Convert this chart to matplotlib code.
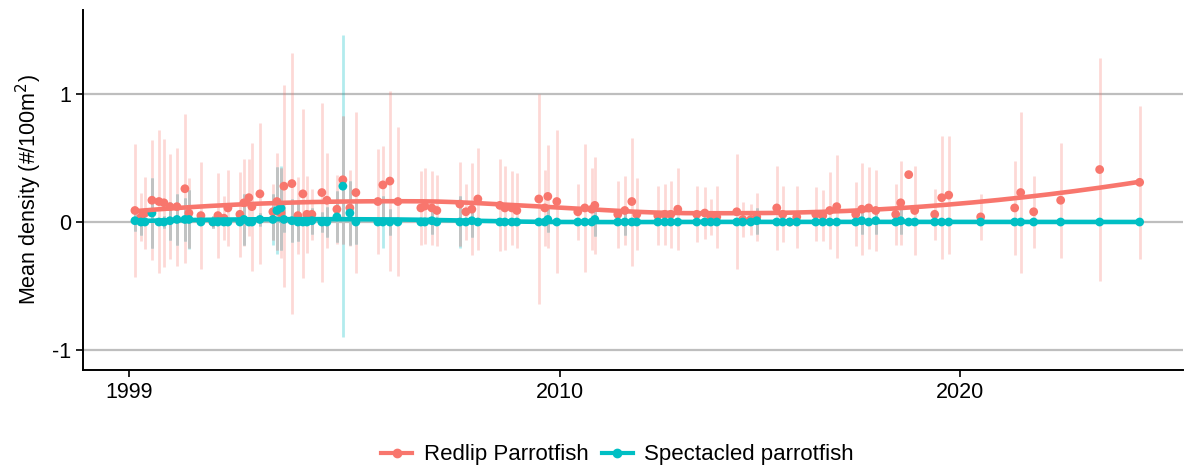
import numpy as np
import matplotlib
matplotlib.use("Agg")
import matplotlib.pyplot as plt
from matplotlib.lines import Line2D

plt.rcParams['font.family'] = ['Liberation Sans', 'DejaVu Sans']

# survey dates (decimal year)
years = [1999.375, 1999.525, 1999.625, 1999.8, 1999.975, 2000.1, 2000.25, 2000.425, 2000.625, 2000.725,
         2001.025, 2001.325, 2001.45, 2001.6, 2001.7, 2002.0, 2002.1, 2002.225, 2002.3, 2002.5,
         2002.825, 2002.925, 2003.025, 2003.1, 2003.3, 2003.45, 2003.575, 2003.675, 2003.8, 2004.05,
         2004.175, 2004.425, 2004.575, 2004.75, 2004.9, 2005.45, 2005.575, 2005.75, 2005.95, 2006.525,
         2006.625, 2006.8, 2006.925, 2007.5, 2007.65, 2007.8, 2007.95, 2008.5, 2008.625, 2008.8,
         2008.925, 2009.475, 2009.625, 2009.7, 2009.925, 2010.45, 2010.625, 2010.8, 2010.875, 2011.45,
         2011.625, 2011.8, 2011.925, 2012.45, 2012.625, 2012.775, 2012.95, 2013.425, 2013.625, 2013.775,
         2013.925, 2014.425, 2014.575, 2014.775, 2014.925, 2015.425, 2015.575, 2015.75, 2015.925, 2016.4,
         2016.575, 2016.75, 2016.925, 2017.4, 2017.55, 2017.725, 2017.9, 2018.4, 2018.525, 2018.725,
         2018.875, 2019.375, 2019.55, 2019.725, 2020.525, 2021.375, 2021.525, 2021.85, 2022.525, 2023.5,
         2024.5]

redlip = [0.09, 0.04, 0.07, 0.17, 0.16, 0.15, 0.12, 0.12, 0.26, 0.07,
          0.05, 0.0, 0.05, 0.03, 0.11, 0.06, 0.15, 0.19, 0.12, 0.22,
          0.08, 0.16, 0.07, 0.28, 0.3, 0.05, 0.22, 0.06, 0.06, 0.23,
          0.17, 0.1, 0.33, 0.11, 0.23, 0.16, 0.29, 0.32, 0.16, 0.11,
          0.125, 0.11, 0.09, 0.14, 0.08, 0.1, 0.18, 0.13, 0.11, 0.11,
          0.09, 0.18, 0.11, 0.2, 0.16, 0.08, 0.11, 0.1, 0.13, 0.06,
          0.09, 0.16, 0.06, 0.05, 0.06, 0.06, 0.1, 0.06, 0.07, 0.04,
          0.04, 0.08, 0.02, 0.02, 0.04, 0.11, 0.06, 0.0, 0.04, 0.06,
          0.05, 0.09, 0.12, 0.06, 0.1, 0.11, 0.09, 0.06, 0.15, 0.37,
          0.09, 0.06, 0.19, 0.21, 0.04, 0.11, 0.23, 0.08, 0.17, 0.41,
          0.31]

redlip_err = [0.52, 0.19, 0.28, 0.47, 0.56, 0.5, 0.41, 0.46, 0.58, 0.27,
              0.42, 0.05, 0.33, 0.17, 0.3, 0.33, 0.34, 0.3, 0.5, 0.55,
              0.22, 0.38, 0.35, 0.79, 1.02, 0.3, 0.66, 0.3, 0.2, 0.7,
              0.37, 0.27, 0.5, 0.3, 0.63, 0.41, 0.3, 0.7, 0.58, 0.29,
              0.3, 0.29, 0.28, 0.33, 0.22, 0.36, 0.4, 0.36, 0.33, 0.29,
              0.29, 0.82, 0.3, 0.4, 0.56, 0.22, 0.5, 0.32, 0.38, 0.26,
              0.27, 0.5, 0.28, 0.23, 0.24, 0.26, 0.32, 0.22, 0.2, 0.14,
              0.24, 0.45, 0.14, 0.12, 0.19, 0.33, 0.22, 0.03, 0.24, 0.21,
              0.2, 0.3, 0.4, 0.25, 0.36, 0.32, 0.32, 0.24, 0.33, 0.0,
              0.35, 0.2, 0.48, 0.46, 0.18, 0.37, 0.63, 0.28, 0.45, 0.87,
              0.6]

spectacled = [0.01, 0.0, 0.0, 0.07, 0.0, 0.0, 0.01, 0.02, 0.02, 0.02,
              0.0, 0.0, 0.0, 0.0, 0.0, 0.0, 0.02, 0.0, 0.0, 0.02,
              0.02, 0.09, 0.11, 0.02, 0.01, 0.0, 0.0, 0.0, 0.01, 0.0,
              0.0, 0.04, 0.28, 0.07, 0.0, 0.0, 0.0, 0.0, 0.0, 0.0,
              0.0, 0.01, 0.0, 0.0, 0.0, 0.01, 0.0, 0.0, 0.0, 0.0,
              0.0, 0.0, 0.0, 0.02, 0.0, 0.0, 0.0, 0.0, 0.02, 0.0,
              0.0, 0.0, 0.0, 0.0, 0.0, 0.0, 0.0, 0.0, 0.0, 0.0,
              0.0, 0.0, 0.0, 0.0, 0.01, 0.0, 0.0, 0.0, 0.0, 0.0,
              0.0, 0.0, 0.0, 0.0, 0.01, 0.0, 0.01, 0.0, 0.01, 0.0,
              0.0, 0.0, 0.0, 0.0, 0.0, 0.0, 0.0, 0.0, 0.0, 0.0,
              0.0]

spectacled_err = [0.08, 0.1, 0.0, 0.27, 0.0, 0.05, 0.15, 0.2, 0.17, 0.23,
                  0.0, 0.05, 0.0, 0.0, 0.0, 0.0, 0.2, 0.0, 0.0, 0.05,
                  0.2, 0.34, 0.33, 0.1, 0.17, 0.15, 0.0, 0.0, 0.1, 0.08,
                  0.12, 0.2, 1.18, 0.25, 0.17, 0.0, 0.2, 0.1, 0.0, 0.0,
                  0.0, 0.1, 0.0, 0.2, 0.0, 0.13, 0.0, 0.0, 0.0, 0.0,
                  0.0, 0.0, 0.0, 0.1, 0.0, 0.0, 0.0, 0.0, 0.13, 0.0,
                  0.1, 0.0, 0.0, 0.0, 0.0, 0.0, 0.0, 0.0, 0.0, 0.0,
                  0.0, 0.0, 0.0, 0.0, 0.1, 0.0, 0.0, 0.0, 0.0, 0.0,
                  0.0, 0.0, 0.0, 0.0, 0.1, 0.0, 0.1, 0.0, 0.1, 0.0,
                  0.0, 0.0, 0.0, 0.0, 0.0, 0.0, 0.0, 0.0, 0.0, 0.0,
                  0.0]

tick_pos = [1999.225, 2010, 2020]
tick_lab = ["1999", "2010", "2020"]

red = "#F8766D"
teal = "#00BFC4"


def loess(x, y, xs, span=0.75):
    # local quadratic fit with tricube weights, like R's loess default
    x = np.asarray(x); y = np.asarray(y)
    n = len(x)
    q = int(np.floor(n * span))
    out = []
    for x0 in xs:
        d = np.abs(x - x0)
        h = np.sort(d)[q - 1]
        w = np.clip(1 - (d / h) ** 3, 0, None) ** 3
        X = np.column_stack([np.ones(n), x - x0, (x - x0) ** 2])
        W = np.sqrt(w)
        beta = np.linalg.lstsq(X * W[:, None], y * W, rcond=None)[0]
        out.append(beta[0])
    return np.array(out)


fig = plt.figure(figsize=(11.85, 4.68), dpi=100)
ax = fig.add_axes([0.070, 0.2094, 0.928, 0.7692])

x = np.array(years)
rv = np.array(redlip); re = np.array(redlip_err)
tv = np.array(spectacled); te = np.array(spectacled_err)

# red error bars
ax.vlines(x, rv - re, rv + re, color=red, alpha=0.28, lw=2.0, zorder=2)

# teal error bars: grey where they overlap the red bar, light cyan elsewhere
lo, hi = tv - te, tv + te
olo = np.maximum(lo, rv - re)
ohi = np.minimum(hi, rv + re)
has = te > 0
ax.vlines(x[has], lo[has], hi[has], color=teal, alpha=0.3, lw=2.0, zorder=2)
ov = has & (ohi > olo)
ax.vlines(x[ov], olo[ov], ohi[ov], color='#c2c2c2', lw=2.0, zorder=2.1)

for vals, col in [(rv, red), (tv, teal)]:
    ax.scatter(x, vals, s=40, color=col, edgecolors='none', zorder=3)

xs = np.linspace(x.min(), x.max(), 200)
for vals, col in [(rv, red), (tv, teal)]:
    ax.plot(xs, loess(x, vals, xs), color=col, lw=3.3, zorder=4, solid_capstyle='butt')

ax.set_xlim(1998.075, 2025.575)
ax.set_ylim(-1.156, 1.656)
ax.set_yticks([-1, 0, 1])
ax.set_yticklabels(["-1", "0", "1"])
ax.set_xticks(tick_pos)
ax.set_xticklabels(tick_lab)
ax.grid(axis='y', color='#BEBEBE', lw=1.6)
ax.set_axisbelow(True)
for s in ['top', 'right']:
    ax.spines[s].set_visible(False)
for s in ['left', 'bottom']:
    ax.spines[s].set_linewidth(1.4)
    ax.spines[s].set_color('black')
ax.tick_params(axis='both', labelsize=15.5, length=5, width=1.2, color='black', labelcolor='black')
ax.set_ylabel("Mean density (#/100m$^2$)", fontsize=15.5, labelpad=6)

handles = [Line2D([0], [0], color=red, lw=3, marker='o', markersize=6),
           Line2D([0], [0], color=teal, lw=3, marker='o', markersize=6)]
fig.legend(handles, ["Redlip Parrotfish", "Spectacled parrotfish"], loc='center',
           bbox_to_anchor=(0.521, 0.028), ncol=2, frameon=False, fontsize=16,
           handlelength=1.4, columnspacing=0.6, handletextpad=0.5)

fig.savefig("out.png", dpi=100)
